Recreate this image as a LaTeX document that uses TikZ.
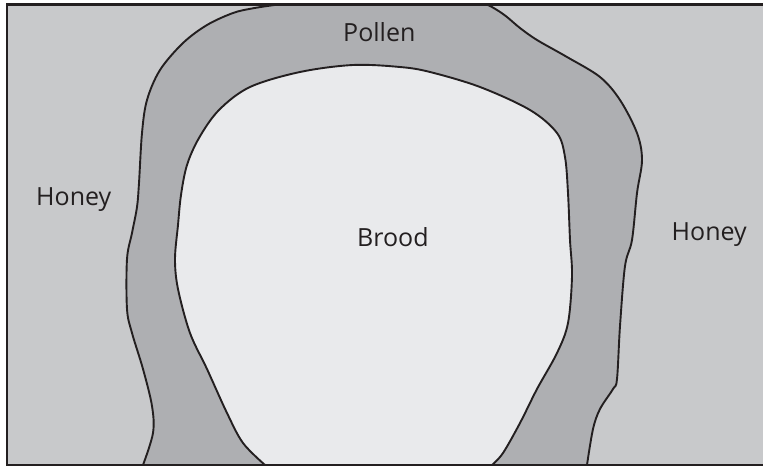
\documentclass[tikz,border=0pt]{standalone}
\usepackage{fontspec}
\setmainfont{Open Sans}
\definecolor{honeyc}{HTML}{C8C9CB}
\definecolor{pollenc}{HTML}{AEAFB2}
\definecolor{broodc}{HTML}{E9EAEC}
\definecolor{inkc}{HTML}{231F20}
\begin{document}
\begin{tikzpicture}[x=1pt,y=-1pt,
  edge/.style={draw=inkc,line width=1.9pt,line join=round},
  lbl/.style={anchor=base west,inner sep=0pt,text=inkc,font=\fontsize{25}{25}\selectfont}]
\useasboundingbox (0,0) rectangle (763,466);
\def\outerL{(285,4.5) (277,4.7) (253,8.3) (233,13) (207,25) (183,43) (160,70) (147,100) (142,133) (139,183) (137,207) (132,233) (127,259) (127,309) (132,333) (143,369) (152,406) (153,433) (143,465)}
\def\outerR{(587,465) (593,429) (600,409) (613,389) (617,379) (620,326) (625,266) (632,240) (637,193) (642,160) (637,133) (620,100) (600,77) (567,57) (537,40) (520,28) (507,17) (497,10) (487,4.7) (480,4.5)}
\def\inner{(265,465) (243,443) (227,413) (207,369) (190,333) (178,289) (175,259) (178,225) (181,195) (187,165) (199,138) (219,110) (250,87) (300,72) (353,65) (400,67) (430,72) (480,87) (530,110) (557,133) (565,157) (568,193) (570,240) (572,276) (568,323) (557,353) (537,389) (520,423) (503,453) (492,465)}
% honey background
\fill[honeyc] (7,4.5) rectangle (770,465);
% pollen band
\fill[pollenc] plot[smooth,tension=0.55] coordinates {\outerL}
  -- (587,465)
  -- plot[smooth,tension=0.55] coordinates {\outerR}
  -- cycle;
% brood
\fill[broodc] plot[smooth,tension=0.55] coordinates {\inner} -- cycle;
% outlines
\draw[edge] plot[smooth,tension=0.55] coordinates {\outerL};
\draw[edge] plot[smooth,tension=0.55] coordinates {\outerR};
\draw[edge] plot[smooth,tension=0.55] coordinates {\inner};
% frame
\draw[draw=inkc,line width=2.2pt] (7,4.5) rectangle (770,465);
% labels
\node[lbl] (pollen) at (343,41.7) {Pollen};
\node[lbl] (brood) at (357,246) {Brood};
\node[lbl] (honeyl) at (36,205) {Honey};
\node[lbl] (honeyr) at (671.5,240) {Honey};
\end{tikzpicture}
\end{document}
